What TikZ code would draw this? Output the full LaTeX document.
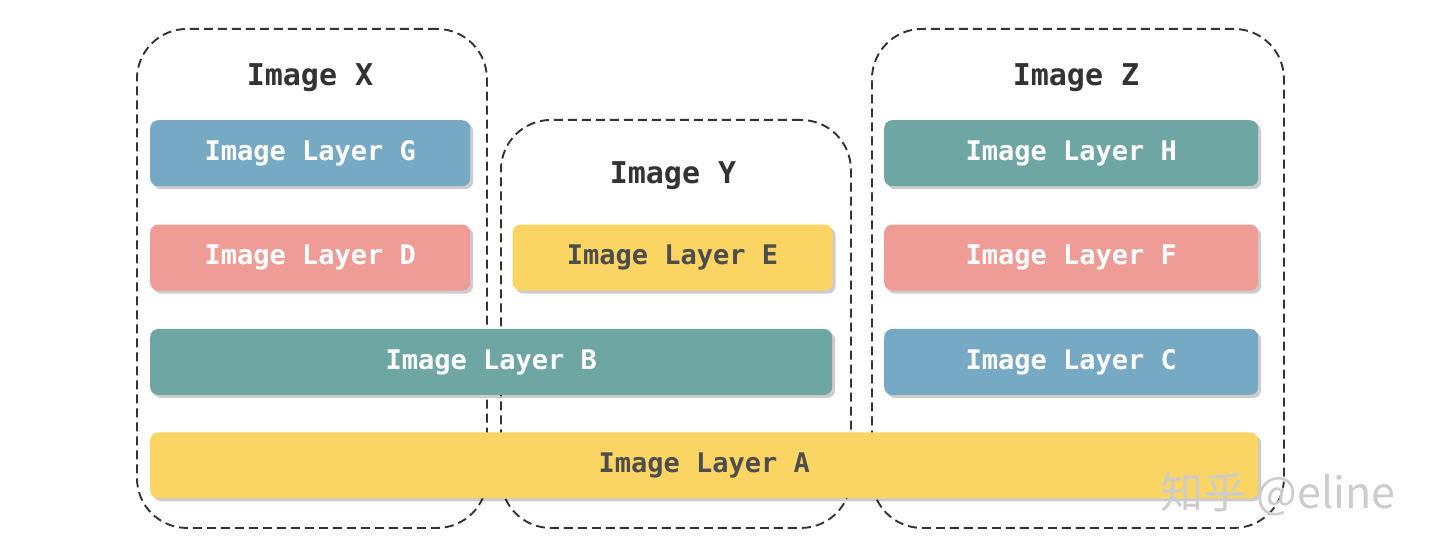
\documentclass[tikz,border=0pt]{standalone}
\usepackage{xcolor}
\usepackage{tikz}
\usepackage{fontspec}
\setmonofont{DejaVu Sans Mono}
\newfontfamily\cjkfont{Noto Sans CJK SC}
\usetikzlibrary{
  positioning,
  shadows
}
\definecolor{imBlue}{HTML}{75A9C4}
\definecolor{imPink}{HTML}{EF9B96}
\definecolor{imTeal}{HTML}{6EA6A3}
\definecolor{imYellow}{HTML}{FAD564}
\definecolor{imInk}{HTML}{333333}
\definecolor{imDark}{HTML}{4D4D4D}
\tikzset{
  layer/.style={
    rounded corners=8pt, minimum height=66pt, inner sep=0pt,
    font=\fontsize{27}{30}\selectfont\ttfamily\bfseries, text=white,
    drop shadow={shadow xshift=3pt, shadow yshift=-3pt, opacity=0.2, fill=black}
  },
  bluelayer/.style={layer, fill=imBlue},
  pinklayer/.style={layer, fill=imPink},
  teallayer/.style={layer, fill=imTeal},
  yellowlayer/.style={layer, fill=imYellow, text=imDark},
  imgframe/.style={
    draw=imInk, line width=1.9pt, dash pattern=on 9pt off 5pt,
    rounded corners=50pt, inner sep=0pt
  },
  imgtitle/.style={font=\fontsize{30}{33}\selectfont\ttfamily\bfseries, text=imInk},
  watermark/.style={font=\fontsize{43}{46}\selectfont\cjkfont, text=black!20}
}
\begin{document}
\begin{tikzpicture}[x=1pt, y=1pt, node distance=38pt]
  \useasboundingbox (0,0) rectangle (1434,554);
  % image frames
  \node[imgframe, minimum width=350pt, minimum height=499pt, anchor=north west] (frameX) at (136,526) {};
  \node[imgframe, minimum width=350pt, minimum height=408pt, anchor=north west] (frameY) at (500,435) {};
  \node[imgframe, minimum width=412pt, minimum height=499pt, anchor=north west] (frameZ) at (871,526) {};
  \node[imgtitle] (titleX) at (310,476) {Image X};
  \node[imgtitle] (titleY) at (673,378) {Image Y};
  \node[imgtitle] (titleZ) at (1076,476) {Image Z};
  % layers
  \node[bluelayer, minimum width=320pt, anchor=north west] (layG) at (150,434) {Image Layer G};
  \node[pinklayer, minimum width=320pt, below=of layG] (layD) {Image Layer D};
  \node[teallayer, minimum width=682pt, below=38pt of layD.south west, anchor=north west] (layB) {Image Layer B};
  \node[yellowlayer, minimum width=1108pt, below=37pt of layB.south west, anchor=north west] (layA) {Image Layer A};
  \node[yellowlayer, minimum width=320pt, right=42pt of layD] (layE) {Image Layer E};
  \node[teallayer, minimum width=374pt, anchor=north west] (layH) at (884,434) {Image Layer H};
  \node[pinklayer, minimum width=374pt, below=of layH] (layF) {Image Layer F};
  \node[bluelayer, minimum width=374pt, below=of layF] (layC) {Image Layer C};
  \node[watermark] (mark) at (1278,60) {知乎 @eline};
\end{tikzpicture}
\end{document}
